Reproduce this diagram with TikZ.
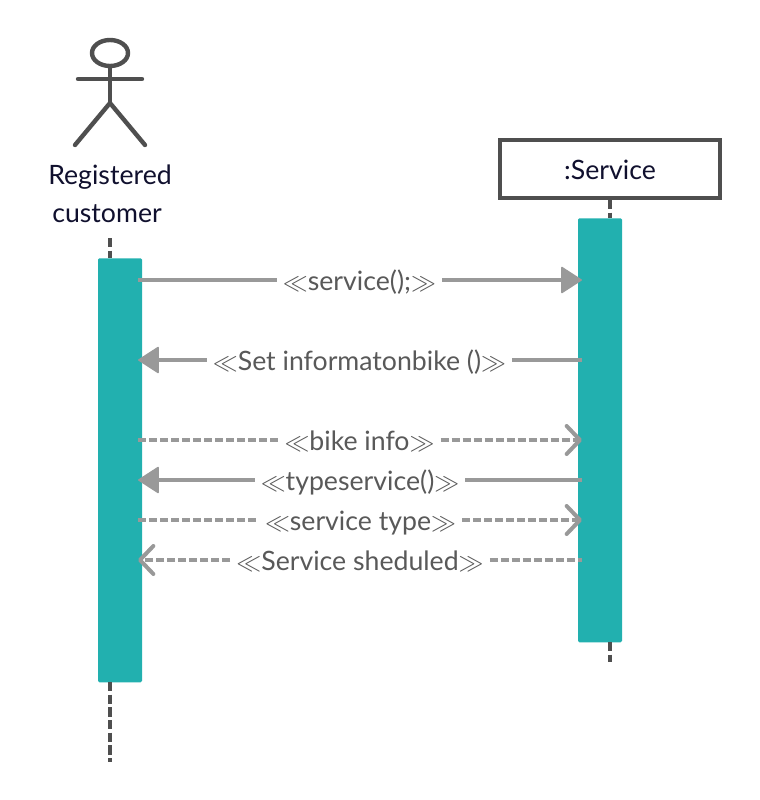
\documentclass[tikz,border=0pt]{standalone}
\usepackage{fontspec}
\usepackage{graphicx}
\setmainfont{Lato}
\usetikzlibrary{arrows.meta,shapes.geometric}
\definecolor{barteal}{HTML}{22B0AF}
\definecolor{msggray}{HTML}{999999}
\definecolor{darkline}{HTML}{4F4F4F}
\definecolor{msgtext}{HTML}{595959}
\definecolor{navytext}{HTML}{10102E}
\tikzset{
  actorline/.style={draw=darkline,line width=3.3pt,line cap=round,line join=round},
  lifeline/.style={draw=darkline,line width=3pt,dash pattern=on 7pt off 2.5pt},
  activation/.style={fill=barteal,draw=none,rounded corners=1pt,minimum width=33pt,inner sep=0pt,anchor=north},
  msg/.style={draw=msggray,line width=3pt},
  msgdash/.style={msg,dash pattern=on 6pt off 2.25pt},
  filledhead/.style={-{Triangle[length=16pt,width=20.5pt,round,line width=1pt,fill=msggray]}},
  openhead/.style={-{Straight Barb[length=10pt,width=21pt,round,line width=3pt]}},
  msglabel/.style={text=msgtext,font=\fontsize{20pt}{23pt}\selectfont,inner xsep=4.5pt,inner ysep=0pt,text height=14pt,text depth=4pt},
  titletext/.style={text=navytext,font=\fontsize{20pt}{28.5pt}\selectfont,align=center,inner sep=0pt}
}
\newcommand{\lopen}{\scalebox{0.9}{$\ll$}}
\newcommand{\ropen}{\scalebox{0.9}{$\gg$}}
\begin{document}
\begin{tikzpicture}[x=0.75pt,y=-0.75pt]
\useasboundingbox (0,0) rectangle (760,800);
% actor
\node[actorline,ellipse,minimum width=27pt,minimum height=19.5pt,inner sep=0pt] (head) at (110,53) {};
\coordinate (armL) at (78,79);
\coordinate (armR) at (142,79);
\coordinate (hip) at (110,103);
\coordinate (footL) at (75,145);
\coordinate (footR) at (145,145);
\draw[actorline] (head.south) -- (hip);
\draw[actorline] (armL) -- (armR);
\draw[actorline] (footL) -- (hip) -- (footR);
\node[titletext] (actorname) at (110,194) {Registered\\customer\hspace*{4.5pt}};
% service box
\node[draw=darkline,line width=3pt,fill=white,minimum width=165pt,minimum height=43.5pt,inner sep=0pt,text=navytext,font=\fontsize{20pt}{23pt}\selectfont,text height=15.8pt,text depth=0pt] (service) at (610,169) {:Service};
% activations
\node[activation,minimum height=318pt] (barA) at (120,258) {};
\node[activation,minimum height=318pt] (barB) at (600,218) {};
% lifelines
\coordinate (lifeAtop) at (110,238);
\coordinate (lifeAjoin) at (110,258);
\coordinate (lifeAout) at (110,682);
\coordinate (lifeAend) at (110,762);
\coordinate (lifeBjoin) at (610,218);
\coordinate (lifeBout) at (610,642);
\coordinate (lifeBend) at (610,662);
\draw[lifeline] (lifeAtop) -- (lifeAjoin);
\draw[lifeline] (lifeAout) -- (lifeAend);
\draw[lifeline] (service.south -| lifeBjoin) -- (lifeBjoin);
\draw[lifeline] (lifeBout) -- (lifeBend);
% labels
\node[msglabel] (m1) at (359.5,284) {\lopen service();\ropen};
\node[msglabel] (m2) at (359.5,364) {\lopen Set informatonbike ()\ropen};
\node[msglabel] (m3) at (359.5,444) {\lopen bike info\ropen};
\node[msglabel] (m4) at (360,484) {\lopen typeservice()\ropen};
\node[msglabel] (m5) at (360.5,524) {\lopen service type\ropen};
\node[msglabel] (m6) at (360,564) {\lopen Service sheduled\ropen};
% message ends on the activation bars
\foreach \n/\y in {1/280,2/360,3/440,4/480,5/520,6/560}{
  \coordinate (L\n) at (138,\y);
  \coordinate (R\n) at (582,\y);
}
\draw[msg] (L1) -- (L1 -| m1.west);
\draw[msg,filledhead] (L1 -| m1.east) -- (R1);
\draw[msg,filledhead] (L2 -| m2.west) -- (L2);
\draw[msg] (R2) -- (R2 -| m2.east);
\draw[msgdash] (L3) -- (L3 -| m3.west);
\draw[msgdash,openhead] (L3 -| m3.east) -- (R3);
\draw[msg,filledhead] (L4 -| m4.west) -- (L4);
\draw[msg] (R4) -- (R4 -| m4.east);
\draw[msgdash] (L5) -- (L5 -| m5.west);
\draw[msgdash,openhead] (L5 -| m5.east) -- (R5);
\draw[msgdash,openhead] (L6 -| m6.west) -- (L6);
\draw[msgdash] (R6 -| m6.east) -- (R6);
\end{tikzpicture}
\end{document}
